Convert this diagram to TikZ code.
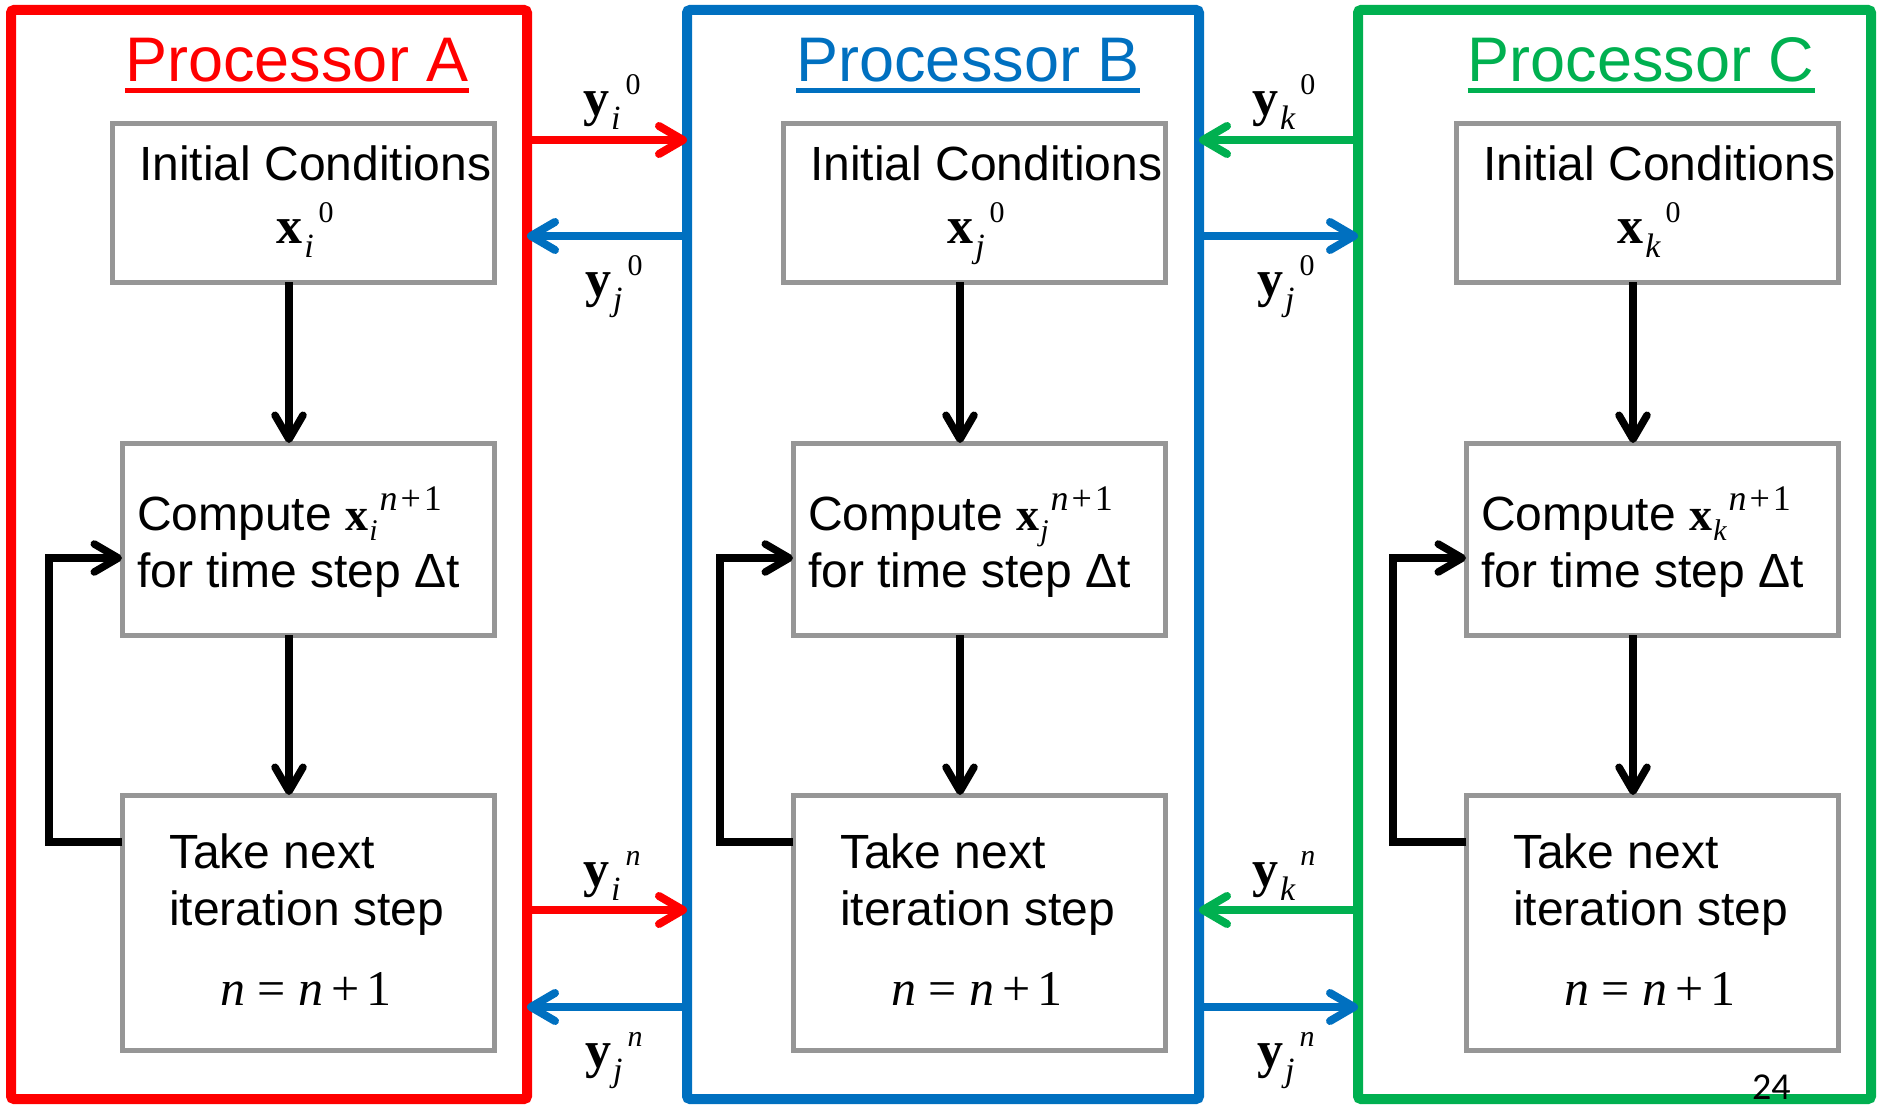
\RequirePackage{fix-cm}
\documentclass[tikz,border=0pt]{standalone}
\usepackage{fontspec}
\usetikzlibrary{arrows.meta}
\newfontfamily\arial{Liberation Sans}
\newfontfamily\tnr{Liberation Serif}
\newfontfamily\calib{Carlito}
\definecolor{pred}{HTML}{FF0000}
\definecolor{pblue}{HTML}{0070C0}
\definecolor{pgreen}{HTML}{00B050}
\definecolor{boxgray}{HTML}{969696}
\newcommand\vlab[3]{{\tnr\fontsize{52}{52}\selectfont\bfseries #1}\kern2pt\raisebox{-14pt}{\tnr\fontsize{34}{34}\selectfont\itshape #2}\kern5pt\raisebox{21pt}{\tnr\fontsize{30}{30}\selectfont #3}}
\newcommand\nexpr{{\tnr\fontsize{50}{50}\selectfont\itshape n\kern12pt\upshape=\kern12pt\itshape n\kern8pt\upshape+\kern7pt1}}
\newcommand\cmpx[1]{{\tnr\fontsize{46}{46}\selectfont\bfseries x}\kern1pt\raisebox{-10pt}{\tnr\fontsize{30}{30}\selectfont\itshape #1}\kern2pt\raisebox{20pt}{\tnr\fontsize{36}{36}\selectfont\itshape n\upshape\kern3pt+\kern3pt1}}
\tikzset{
 pframe/.style={draw=#1, line width=10pt, outer sep=0pt, inner sep=0pt, minimum height=1089pt, rounded corners=3pt},
 pbox/.style={draw=boxgray, line width=5pt, outer sep=0pt, inner sep=0pt},
 flow/.style={line width=7.5pt, -{Straight Barb[length=24pt,width=28pt,round]}},
 xfer/.style={draw=#1, line width=8pt, -{Straight Barb[length=24pt,width=28pt,round]}},
 ttl/.style={inner sep=0pt, font=\arial\fontsize{63}{63}\selectfont, anchor=base},
 txt/.style={inner sep=0pt, font=\arial\fontsize{48}{48}\selectfont, anchor=base west},
 lab/.style={inner sep=0pt, anchor=base west},
}
\newcommand\procdraw[4]{%
\begin{scope}[xshift=#2pt]
 \node[ttl, text=#3] (#1t) at (968,82) {Processor #1};
 \draw[#3, line width=5pt] ([yshift=-9pt]#1t.base west) -- ([yshift=-9pt]#1t.base east);
 \node[pbox, minimum width=382pt, minimum height=158pt] (#1ic) at (974,203) {};
 \node[pbox, minimum width=372pt, minimum height=192pt] (#1cp) at (979,539) {};
 \node[pbox, minimum width=372pt, minimum height=255pt] (#1nx) at (979,922.5) {};
 \node[txt] (#1ict) at (810,180) {Initial Conditions};
 \node[lab, anchor=base] (#1icx) at (976,243) {\vlab{x}{#4}{0}};
 \node[txt] (#1cpa) at (808,530) {Compute \cmpx{#4}};
 \node[txt] (#1cpb) at (808,587) {for time step Δt};
 \node[txt] (#1nxa) at (840,868) {Take next};
 \node[txt] (#1nxb) at (840,925) {iteration step};
 \node[lab, anchor=base] (#1nxc) at (977,1005) {\nexpr};
 \coordinate (#1ax) at (960,0);
 \coordinate (#1lb) at (720,842);
 \coordinate (#1lt) at (720,558);
 \draw[flow] (#1ic.south -| #1ax) -- (#1cp.north -| #1ax);
 \draw[flow] (#1cp.south -| #1ax) -- (#1nx.north -| #1ax);
 \draw[flow] (#1nx.west |- #1lb) -- (#1lb) -- (#1lt) -- (#1cp.west |- #1lt);
\end{scope}}
\begin{document}
\begin{tikzpicture}[x=1pt,y=-1pt]
\useasboundingbox[fill=white] (0,0) rectangle (1877,1105);
\node[pframe=pred, minimum width=516pt] (frA) at (269,554.5) {};
\node[pframe=pblue, minimum width=512pt] (frB) at (943,554.5) {};
\node[pframe=pgreen, minimum width=513pt] (frC) at (1614.5,554.5) {};
\procdraw{A}{-671}{pred}{i}
\procdraw{B}{0}{pblue}{j}
\procdraw{C}{673}{pgreen}{k}
\coordinate (ra) at (0,140);
\coordinate (rb) at (0,236);
\coordinate (rc) at (0,910);
\coordinate (rd) at (0,1007);
\draw[xfer=pred] (frA.east |- ra) -- (frB.west |- ra);
\draw[xfer=pblue] (frB.west |- rb) -- (frA.east |- rb);
\draw[xfer=pgreen] (frC.west |- ra) -- (frB.east |- ra);
\draw[xfer=pblue] (frB.east |- rb) -- (frC.west |- rb);
\draw[xfer=pred] (frA.east |- rc) -- (frB.west |- rc);
\draw[xfer=pblue] (frB.west |- rd) -- (frA.east |- rd);
\draw[xfer=pgreen] (frC.west |- rc) -- (frB.east |- rc);
\draw[xfer=pblue] (frB.east |- rd) -- (frC.west |- rd);
\node[lab] (lyi0) at (583,116) {\vlab{y}{i}{0}};
\node[lab] (lyj0) at (585,296) {\vlab{y}{j}{0}};
\node[lab] (lyk0) at (1252,116) {\vlab{y}{k}{0}};
\node[lab] (lyj0r) at (1257,296) {\vlab{y}{j}{0}};
\node[lab] (lyin) at (583,886) {\vlab{y}{i}{\itshape n}};
\node[lab] (lyjn) at (585,1067) {\vlab{y}{j}{\itshape n}};
\node[lab] (lykn) at (1252,886) {\vlab{y}{k}{\itshape n}};
\node[lab] (lyjnr) at (1257,1067) {\vlab{y}{j}{\itshape n}};
\node[lab, font=\calib\fontsize{38}{38}\selectfont] (pg) at (1752,1099) {24};
\end{tikzpicture}
\end{document}
